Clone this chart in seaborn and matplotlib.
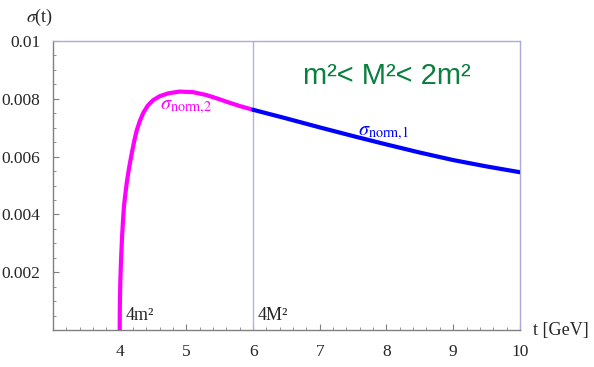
import numpy as np
import pandas as pd
import matplotlib
matplotlib.use("Agg")
import matplotlib.pyplot as plt
import seaborn as sns
from matplotlib.ticker import MultipleLocator, FixedLocator

# sigma_norm,2 : from threshold 4m^2 up to 4M^2
t_norm2 = [4.0, 4.002, 4.005, 4.01, 4.02, 4.035, 4.05, 4.065, 4.085, 4.105, 4.14, 4.18, 4.22,
           4.255, 4.3, 4.355, 4.42, 4.5, 4.6, 4.73, 4.9, 5.1, 5.3, 5.45, 5.6, 5.8, 6.0]
s_norm2 = [0.0, 0.00075, 0.0012, 0.0017, 0.0024, 0.0032, 0.0038, 0.0043, 0.0047, 0.00508,
           0.0056, 0.0061, 0.00656, 0.0069, 0.00722, 0.00752, 0.00776, 0.00795, 0.00809,
           0.00819, 0.00825, 0.00823, 0.00813, 0.00802, 0.0079, 0.00775, 0.00762]

# sigma_norm,1 : above 4M^2
t_norm1 = [6.0, 6.5, 7.0, 7.5, 8.0, 8.5, 9.0, 9.5, 10.0]
s_norm1 = [0.00762, 0.00732, 0.00701, 0.00671, 0.00642, 0.00614, 0.00588, 0.00566, 0.00546]

x_ticks = [4, 5, 6, 7, 8, 9, 10]
y_ticks = [0.002, 0.004, 0.006, 0.008, 0.01]
y_ticklabels = ["0.002", "0.004", "0.006", "0.008", "0.01"]

sns.set_style("ticks")
plt.rcParams["font.family"] = ["Liberation Serif", "DejaVu Serif"]
plt.rcParams["mathtext.fontset"] = "stix"

df2 = pd.DataFrame({"t": t_norm2, "s": s_norm2})
df1 = pd.DataFrame({"t": t_norm1, "s": s_norm1})

fig = plt.figure(figsize=(5.94, 3.67), dpi=100)
ax = fig.add_axes([0.0892, 0.1008, 0.786, 0.7875])

frame = "#aaaadd"
ax.axvline(6, color="#b4b4d8", lw=1.0, zorder=1)

sns.lineplot(data=df2, x="t", y="s", ax=ax, color="#ff00ff", lw=3.0,
             estimator=None, sort=False, zorder=3)
sns.lineplot(data=df1, x="t", y="s", ax=ax, color="#0000ff", lw=3.0,
             estimator=None, sort=False, zorder=3)
for ln in ax.get_lines():
    ln.set_solid_joinstyle("round")

ax.set_xlim(3, 10)
ax.set_ylim(0, 0.01)
ax.set_xlabel("")
ax.set_ylabel("")

ax.xaxis.set_major_locator(FixedLocator(x_ticks))
ax.xaxis.set_minor_locator(MultipleLocator(0.2))
ax.yaxis.set_major_locator(FixedLocator(y_ticks))
ax.yaxis.set_minor_locator(MultipleLocator(0.0005))
ax.set_yticklabels(y_ticklabels)

ax.tick_params(which="both", direction="in", color="#808080", top=False, right=False)
ax.tick_params(which="major", length=4, width=0.8, labelsize=12.5)
ax.tick_params(axis="x", which="major", pad=10)
ax.tick_params(axis="y", which="major", pad=9)
ax.tick_params(which="minor", length=2, width=0.6)

for side in ["left", "bottom"]:
    ax.spines[side].set_color("#808080")
    ax.spines[side].set_linewidth(1.0)
for side in ["top", "right"]:
    ax.spines[side].set_visible(True)
    ax.spines[side].set_color(frame)
    ax.spines[side].set_linewidth(1.0)

fig.text(40 / 594, 1 - 17 / 367, r"$\sigma$(t)", fontsize=13, ha="center", va="center")
fig.text(533 / 594, 1 - 330 / 367, "t [GeV]", fontsize=13, ha="left", va="center")

ax.text(4.09, 0.0002, "4m²", fontsize=13, ha="left", va="bottom")
ax.text(6.07, 0.0002, "4M²", fontsize=13, ha="left", va="bottom")

ax.text(8.01, 0.00879, "m²< M²< 2m²", fontsize=21, color="#0a7f3f",
        family=["Liberation Sans", "DejaVu Sans"], ha="center", va="center")

ax.text(4.6, 0.00775, r"$\sigma_{\mathrm{norm{,}2}}$", fontsize=14.5, color="#ff00ff",
        ha="left", va="center")
ax.text(7.58, 0.00685, r"$\sigma_{\mathrm{norm{,}1}}$", fontsize=14.5, color="#0000ff",
        ha="left", va="center")

fig.savefig("out.png", dpi=100)
